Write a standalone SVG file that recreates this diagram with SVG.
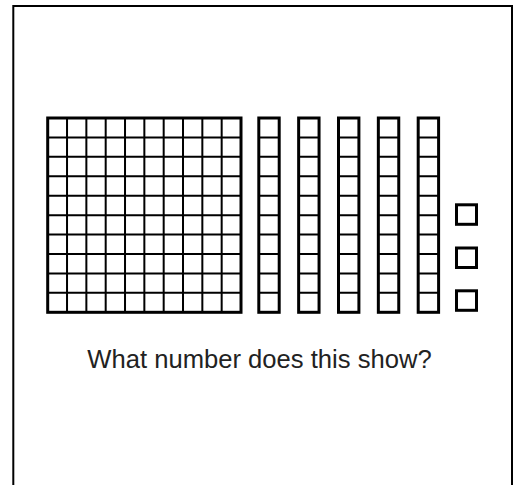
<svg xmlns="http://www.w3.org/2000/svg" width="517" height="485" viewBox="0 0 517 485">
<style>
.outer{fill:#fff;stroke:#000;stroke-width:3}
.inner{stroke:#000;stroke-width:2;fill:none}
.lbl{font-family:"Liberation Sans",Arial,sans-serif;font-size:25.6px;fill:#222}
</style>
<defs>
<g id="rod">
<rect class="outer" x="0" y="0" width="20.4" height="194.3"/>
<path class="inner" d="M0,19.43H20.4M0,38.86H20.4M0,58.29H20.4M0,77.72H20.4M0,97.15H20.4M0,116.58H20.4M0,136.01H20.4M0,155.44H20.4M0,174.87H20.4"/>
</g>
</defs>
<rect width="517" height="485" fill="#fff"/>
<path d="M13.3,485V6H512V485" fill="none" stroke="#000" stroke-width="2"/>
<g id="hundred">
<rect class="outer" x="47.7" y="118" width="193.3" height="194.3"/>
<path class="inner" d="M67.03,118V312.3M86.36,118V312.3M105.69,118V312.3M125.02,118V312.3M144.35,118V312.3M163.68,118V312.3M183.01,118V312.3M202.34,118V312.3M221.67,118V312.3"/>
<path class="inner" d="M47.7,137.43H241M47.7,156.86H241M47.7,176.29H241M47.7,195.72H241M47.7,215.15H241M47.7,234.58H241M47.7,254.01H241M47.7,273.44H241M47.7,292.87H241"/>
</g>
<g id="tens">
<use href="#rod" x="258.8" y="118"/>
<use href="#rod" x="298.65" y="118"/>
<use href="#rod" x="338.5" y="118"/>
<use href="#rod" x="378.35" y="118"/>
<use href="#rod" x="418.2" y="118"/>
</g>
<g id="ones">
<rect class="outer" x="456.5" y="204.8" width="20" height="19.5"/>
<rect class="outer" x="456.5" y="248" width="20" height="19.5"/>
<rect class="outer" x="456.5" y="290.8" width="20" height="19.5"/>
</g>
<text class="lbl" x="259.5" y="368" text-anchor="middle">What number does this show?</text>
</svg>
